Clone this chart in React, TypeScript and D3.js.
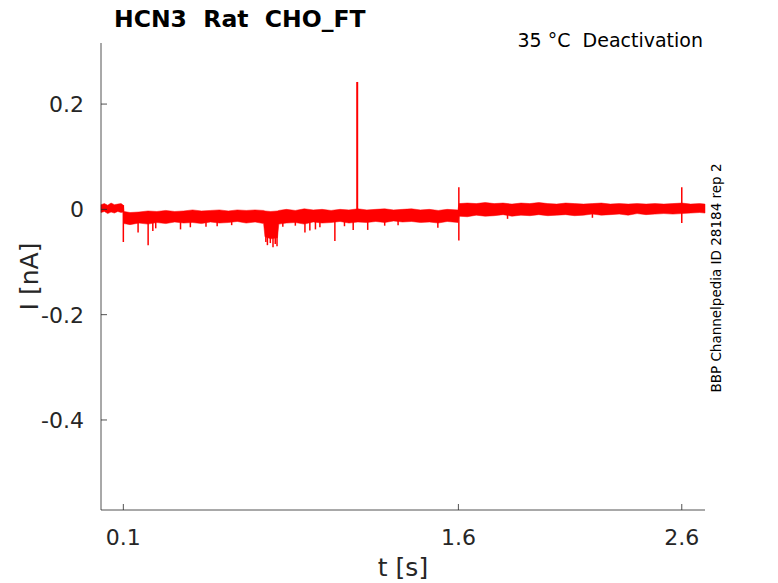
import * as d3 from 'd3';

// envelope of the noisy current trace (t in s, I in nA)
const bandT = [
	0, 0.015, 0.03, 0.045, 0.06, 0.075, 0.09, 0.1,
	0.103, 0.13, 0.17, 0.21, 0.25, 0.29, 0.33, 0.37, 0.41, 0.45, 0.49, 0.53, 0.57, 0.61, 0.65, 0.69,
	0.728, 0.734, 0.76, 0.79, 0.796, 0.83, 0.87, 0.91, 0.95, 0.99, 1.03, 1.07, 1.11, 1.15, 1.19, 1.23,
	1.27, 1.31, 1.35, 1.39, 1.43, 1.47, 1.51, 1.55, 1.598,
	1.603, 1.64, 1.68, 1.72, 1.76, 1.8, 1.84, 1.88, 1.92, 1.96, 2.0, 2.04, 2.08, 2.12, 2.16, 2.2,
	2.24, 2.28, 2.32, 2.36, 2.4, 2.44, 2.48, 2.52, 2.56, 2.6, 2.64, 2.68, 2.704,
];
const bandHi = [
	0.009, 0.011, 0.008, 0.012, 0.009, 0.01, 0.011, 0.008,
	-0.004, -0.006, -0.005, -0.003, -0.004, -0.002, -0.004, -0.003, -0.001, -0.003, -0.002, -0.001, -0.003, -0.001, -0.002, -0.001,
	-0.002, -0.003, -0.004, -0.003, -0.002, 0.0, -0.002, 0.001, -0.001, 0.0, -0.002, 0.0, -0.001, 0.001, -0.001, 0.0,
	0.001, -0.001, 0.0, 0.001, -0.001, 0.0, -0.002, 0.0, -0.001,
	0.011, 0.012, 0.011, 0.013, 0.011, 0.012, 0.01, 0.012, 0.011, 0.013, 0.011, 0.01, 0.012, 0.011, 0.01, 0.011,
	0.012, 0.01, 0.011, 0.01, 0.011, 0.01, 0.011, 0.01, 0.011, 0.012, 0.01, 0.011, 0.01,
];
const bandLo = [
	-0.006, -0.004, -0.008, -0.005, -0.007, -0.004, -0.006, -0.005,
	-0.027, -0.029, -0.026, -0.028, -0.025, -0.027, -0.024, -0.026, -0.025, -0.027, -0.024, -0.026, -0.025, -0.023, -0.026, -0.024,
	-0.027, -0.052, -0.056, -0.054, -0.028, -0.026, -0.025, -0.028, -0.024, -0.026, -0.025, -0.023, -0.026, -0.024, -0.025, -0.023,
	-0.025, -0.022, -0.024, -0.023, -0.025, -0.024, -0.026, -0.023, -0.025,
	-0.013, -0.014, -0.011, -0.013, -0.012, -0.01, -0.013, -0.011, -0.012, -0.01, -0.012, -0.011, -0.01, -0.012, -0.011, -0.009,
	-0.011, -0.01, -0.009, -0.011, -0.008, -0.01, -0.009, -0.008, -0.009, -0.008, -0.007, -0.006, -0.007,
];

// transient spikes
const spikeT = [
	0.1, 0.166, 0.211, 0.232, 0.245, 0.356, 0.4, 0.47, 0.52, 0.585, 0.738, 0.745, 0.758, 0.77, 0.78, 0.788,
	0.814, 0.87, 0.913, 0.935, 0.96, 0.98, 1.047, 1.09, 1.129, 1.147, 1.194, 1.27, 1.33, 1.508, 1.602, 1.82,
	2.2, 2.6,
];
const spikeLo = [
	-0.062, -0.044, -0.068, -0.041, -0.036, -0.038, -0.034, -0.033, -0.032, -0.03, -0.062, -0.068, -0.064, -0.072, -0.066, -0.07,
	-0.033, -0.031, -0.044, -0.04, -0.038, -0.034, -0.06, -0.032, -0.039, -0.02, -0.039, -0.031, -0.03, -0.035, -0.059, -0.018,
	-0.016, -0.026,
];
const spikeHi = [
	0.008, -0.01, -0.01, -0.01, -0.01, -0.01, -0.01, -0.01, -0.01, -0.01, -0.03, -0.03, -0.03, -0.03, -0.03, -0.03,
	-0.01, -0.01, -0.01, -0.01, -0.01, -0.01, -0.01, -0.01, -0.01, 0.242, -0.01, -0.01, -0.01, -0.01, 0.042, 0.0,
	0.0, 0.042,
];

const xTicks = [0.1, 1.6, 2.6];
const yTicks = [0.2, 0, -0.2, -0.4];

const W = 778;
const H = 583;
const margin = { top: 43, right: 73, bottom: 73, left: 101 };
const font = 'DejaVu Sans, sans-serif';
const axisColor = '#262626';

export default function App() {
	const x = d3.scaleLinear().domain([0, 2.704]).range([margin.left, W - margin.right]);
	const y = d3.scaleLinear().domain([-0.571, 0.316]).range([H - margin.bottom, margin.top]);

	const band = d3
		.area<number>()
		.x((_, i) => x(bandT[i]))
		.y0((_, i) => y(bandLo[i]))
		.y1((_, i) => y(bandHi[i]));

	const x0 = margin.left;
	const x1 = W - margin.right;
	const y0 = H - margin.bottom;
	const y1 = margin.top;

	return (
		<svg
			width={W}
			height={H}
			style={{ position: 'absolute', left: 0, top: 0, background: '#fff' }}
			fontFamily={font}
		>
			{/* trace */}
			<path d={band(bandT) ?? ''} fill="#ff0000" stroke="#ff0000" strokeWidth={0.5} />
			{spikeT.map((t, i) => (
				<line
					key={i}
					x1={x(t)}
					x2={x(t)}
					y1={y(spikeLo[i])}
					y2={y(spikeHi[i])}
					stroke="#ff0000"
					strokeWidth={spikeHi[i] > 0.1 ? 2 : 1.5}
				/>
			))}

			{/* axes */}
			<line x1={x0} x2={x0} y1={y1} y2={y0} stroke={axisColor} strokeWidth={0.8} />
			<line x1={x0} x2={x1} y1={y0} y2={y0} stroke={axisColor} strokeWidth={0.8} />
			{xTicks.map((t) => (
				<g key={t}>
					<line x1={x(t)} x2={x(t)} y1={y0} y2={y0 - 6} stroke={axisColor} strokeWidth={0.8} />
					<text x={x(t)} y={y0 + 35} textAnchor="middle" fontSize={22} fill={axisColor}>
						{t}
					</text>
				</g>
			))}
			{yTicks.map((v) => (
				<g key={v}>
					<line x1={x0} x2={x0 + 6} y1={y(v)} y2={y(v)} stroke={axisColor} strokeWidth={0.8} />
					<text x={x0 - 17} y={y(v) + 8} textAnchor="end" fontSize={22} fill={axisColor}>
						{v}
					</text>
				</g>
			))}

			{/* labels */}
			<text x={(x0 + x1) / 2} y={576} textAnchor="middle" fontSize={25} fill={axisColor}>
				t [s]
			</text>
			<text
				transform={`translate(38,${(y0 + y1) / 2}) rotate(-90)`}
				textAnchor="middle"
				fontSize={25}
				fill={axisColor}
			>
				I [nA]
			</text>
			<text x={114} y={27} fontSize={23.5} fontWeight="bold" fill="#000" style={{ whiteSpace: 'pre' }}>
				{'HCN3  Rat  CHO_FT'}
			</text>
			<text x={703} y={47} textAnchor="end" fontSize={19} fill="#000" style={{ whiteSpace: 'pre' }}>
				{'35 °C  Deactivation'}
			</text>
			<text
				transform={`translate(721,278) rotate(-90)`}
				textAnchor="middle"
				fontSize={13.5}
				fill="#000"
			>
				BBP Channelpedia ID 28184 rep 2
			</text>
		</svg>
	);
}
